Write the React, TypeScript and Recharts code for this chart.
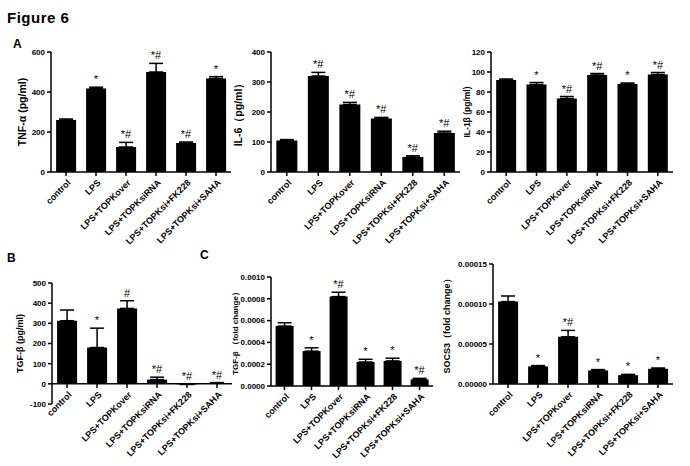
import React from 'react';
import {
  ComposedChart,
  Bar,
  Line,
  XAxis,
  YAxis,
  ErrorBar,
  LabelList,
  ReferenceLine,
} from 'recharts';

const FONT = '"Liberation Sans", Arial, Helvetica, sans-serif';

// groups shared by every panel
const categories = [
  'control',
  'LPS',
  'LPS+TOPKover',
  'LPS+TOPKsiRNA',
  'LPS+TOPKsi+FK228',
  'LPS+TOPKsi+SAHA',
];

// A: TNF-α
const tnfValues = [260, 418, 125, 500, 145, 468];
const tnfErrors = [5, 6, 23, 43, 5, 9];
const tnfMarks = ['', '*', '*#', '*#', '*#', '*'];
const tnfTicks = [0, 200, 400, 600];

// A: IL-6
const il6Values = [105, 320, 225, 178, 50, 130];
const il6Errors = [3, 12, 7, 4, 4, 6];
const il6Marks = ['', '*#', '*#', '*#', '*#', '*#'];
const il6Ticks = [0, 100, 200, 300, 400];

// A: IL-1β
const il1bValues = [92, 87.5, 73.5, 97, 88, 97.5];
const il1bErrors = [1, 2, 2, 1.5, 1, 2];
const il1bMarks = ['', '*', '*#', '*#', '*', '*#'];
const il1bTicks = [0, 20, 40, 60, 80, 100, 120];

// B: TGF-β protein
const tgfValues = [313, 180, 374, 21, -3, 4];
const tgfErrors = [53, 96, 38, 12, 3, 2];
const tgfMarks = ['', '*', '#', '*#', '*#', '*#'];
const tgfTicks = [-100, 0, 100, 200, 300, 400, 500];

// C: TGF-β fold change
const tgfFoldValues = [0.00055, 0.00032, 0.00082, 0.00022, 0.00023, 0.00006];
const tgfFoldErrors = [0.00003, 0.00003, 0.00004, 0.000025, 0.000025, 0.00001];
const tgfFoldMarks = ['', '*', '*#', '*', '*', '*#'];
const tgfFoldTicks = [0, 0.0002, 0.0004, 0.0006, 0.0008, 0.001];

// C: SOCS3 fold change
const socsValues = [0.000103, 0.000022, 0.000059, 0.000017, 0.000011, 0.000019];
const socsErrors = [0.000007, 0.000001, 0.000008, 0.000001, 0.000001, 0.000001];
const socsMarks = ['', '*', '*#', '*', '*', '*'];
const socsTicks = [0, 0.00005, 0.0001, 0.00015];

const CategoryTick = (props: any) => {
  const { x, y, payload, shift = 0 } = props;
  return (
    <g transform={`translate(${x},${y - shift})`}>
      {shift ? <line x1={0} y1={-6} x2={0} y2={-2} stroke="#000" strokeWidth={1.5} /> : null}
      <text
        x={0}
        y={0}
        transform="translate(3,3) rotate(-45)"
        textAnchor="end"
        dy="0.35em"
        fontSize={9}
        fontWeight="bold"
        fill="#000"
        fontFamily={FONT}
      >
        {payload.value}
      </text>
    </g>
  );
};

const MarkLabel = (props: any) => {
  const { x, y, value } = props;
  if (!value) return null;
  return (
    <text x={x} y={y - 4} textAnchor="middle" fontSize={11} fill="#000" fontFamily={FONT}>
      {value}
    </text>
  );
};

type PanelProps = {
  plotX: number;
  plotY: number;
  plotW: number;
  plotH: number;
  labelX: number;
  labelSize: number;
  values: number[];
  errors: number[];
  marks: string[];
  ticks: number[];
  fmt: (v: number) => string;
  yLabel: string;
  zeroShift?: number;
};

const Panel = ({
  plotX, plotY, plotW, plotH, labelX, labelSize, values, errors, marks, ticks, fmt, yLabel, zeroShift = 0,
}: PanelProps) => {
  const data = categories.map((name, i) => ({
    name,
    value: values[i],
    err: [0, errors[i]],
    top: values[i] + errors[i],
    mark: marks[i],
  }));
  const mt = 20;
  const mr = 6;
  const xh = 95;
  const left = labelX - 8;
  const yw = plotX - left;
  const axisStyle = { stroke: '#000', strokeWidth: 1.5 };

  return (
    <div style={{ position: 'absolute', left, top: plotY - mt }}>
      <ComposedChart
        width={yw + plotW + mr}
        height={mt + plotH + xh}
        data={data}
        margin={{ top: mt, right: mr, left: 0, bottom: 0 }}
        barCategoryGap="17%"
      >
        <XAxis
          dataKey="name"
          height={xh}
          interval={0}
          tickSize={4}
          tickMargin={2}
          axisLine={zeroShift ? false : axisStyle}
          tickLine={zeroShift ? false : axisStyle}
          tick={(p: any) => <CategoryTick {...p} shift={zeroShift} />}
        />
        <YAxis
          width={yw}
          domain={[ticks[0], ticks[ticks.length - 1]]}
          ticks={ticks}
          interval={0}
          allowDataOverflow
          tickFormatter={fmt}
          tickSize={4}
          tickMargin={2}
          axisLine={axisStyle}
          tickLine={axisStyle}
          tick={{ fontSize: 8, fontWeight: 'bold', fill: '#000', fontFamily: FONT }}
          label={{
            value: yLabel,
            angle: -90,
            position: 'insideLeft',
            offset: 8,
            style: { textAnchor: 'middle', fontSize: labelSize, fontWeight: 'bold', fill: '#000', fontFamily: FONT },
          }}
        />
        {zeroShift ? <ReferenceLine y={0} stroke="#000" strokeWidth={1.5} /> : null}
        <Bar dataKey="value" fill="#000" isAnimationActive={false}>
          <ErrorBar dataKey="err" width={7} stroke="#000" strokeWidth={1.5} direction="y" />
        </Bar>
        <Line
          dataKey="top"
          stroke="none"
          dot={false}
          activeDot={false}
          isAnimationActive={false}
          legendType="none"
        >
          <LabelList dataKey="mark" content={MarkLabel} />
        </Line>
      </ComposedChart>
    </div>
  );
};

const intFmt = (v: number) => String(v);

const letter = (text: string, x: number, y: number, size: number) => (
  <div
    style={{
      position: 'absolute',
      left: x,
      top: y,
      fontSize: size,
      lineHeight: 1,
      fontWeight: 'bold',
      fontFamily: FONT,
      color: '#000',
      whiteSpace: 'nowrap',
    }}
  >
    {text}
  </div>
);

export default function App() {
  return (
    <div
      style={{
        position: 'absolute',
        left: 0,
        top: 0,
        width: 690,
        height: 466,
        background: '#fff',
        overflow: 'hidden',
        fontFamily: FONT,
      }}
    >
      <div
        style={{
          position: 'absolute',
          left: 7,
          top: 10,
          fontSize: 15,
          lineHeight: 1,
          fontWeight: 'bold',
          letterSpacing: 0.5,
          fontFamily: FONT,
        }}
      >
        Figure 6
      </div>
      {letter('A', 13, 37.5, 12)}
      {letter('B', 7, 251.5, 12)}
      {letter('C', 200, 248.5, 12)}

      <Panel
        plotX={51} plotY={52} plotW={180} plotH={120} labelX={22} labelSize={10.5}
        values={tnfValues} errors={tnfErrors} marks={tnfMarks}
        ticks={tnfTicks} fmt={intFmt} yLabel="TNF-α (pg/ml)"
      />
      <Panel
        plotX={271} plotY={52} plotW={189} plotH={120} labelX={238} labelSize={10.5}
        values={il6Values} errors={il6Errors} marks={il6Marks}
        ticks={il6Ticks} fmt={intFmt} yLabel="IL-6（pg/ml）"
      />
      <Panel
        plotX={491} plotY={52} plotW={182} plotH={120} labelX={467} labelSize={8.5}
        values={il1bValues} errors={il1bErrors} marks={il1bMarks}
        ticks={il1bTicks} fmt={intFmt} yLabel="IL-1β  (pg/ml)"
      />
      <Panel
        plotX={52} plotY={283} plotW={180} plotH={121} labelX={20} labelSize={9}
        values={tgfValues} errors={tgfErrors} marks={tgfMarks}
        ticks={tgfTicks} fmt={intFmt} yLabel="TGF-β (pg/ml)" zeroShift={20}
      />
      <Panel
        plotX={271} plotY={277} plotW={162} plotH={109} labelX={235} labelSize={8}
        values={tgfFoldValues} errors={tgfFoldErrors} marks={tgfFoldMarks}
        ticks={tgfFoldTicks} fmt={(v) => v.toFixed(4)} yLabel="TGF-β （fold change）"
      />
      <Panel
        plotX={493} plotY={264} plotW={180} plotH={120} labelX={447} labelSize={9}
        values={socsValues} errors={socsErrors} marks={socsMarks}
        ticks={socsTicks} fmt={(v) => v.toFixed(5)} yLabel="SOCS3（fold change）"
      />
    </div>
  );
}
